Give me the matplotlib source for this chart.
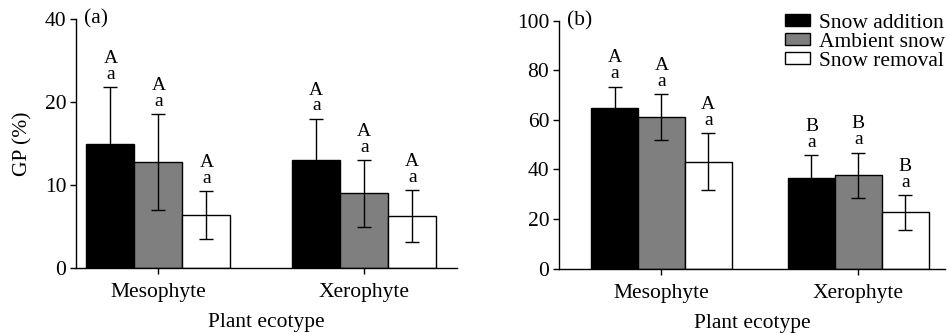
import matplotlib
matplotlib.use("Agg")
import matplotlib.pyplot as plt
import numpy as np

plt.rcParams['font.family'] = ['Liberation Serif', 'DejaVu Serif']

categories = ["Mesophyte", "Xerophyte"]
treatments = ["Snow addition", "Ambient snow", "Snow removal"]
colors = ["#000000", "#7f7f7f", "#ffffff"]

# Panel (a) GP (%)
gp_a = {
    "Snow addition": [15.0, 13.0],
    "Ambient snow": [12.8, 9.0],
    "Snow removal": [6.4, 6.3],
}
err_a = {
    "Snow addition": [6.8, 5.0],
    "Ambient snow": [5.8, 4.0],
    "Snow removal": [2.9, 3.1],
}
upper_a = [["A", "A"], ["A", "A"], ["A", "A"]]
lower_a = [["a", "a"], ["a", "a"], ["a", "a"]]
yticks_a = [0, 10, 20, 30]
yticklabels_a = ["0", "10", "20", "40"]

# Panel (b)
gp_b = {
    "Snow addition": [64.9, 36.4],
    "Ambient snow": [61.2, 37.6],
    "Snow removal": [43.1, 22.7],
}
err_b = {
    "Snow addition": [8.5, 9.4],
    "Ambient snow": [9.2, 9.2],
    "Snow removal": [11.5, 7.0],
}
upper_b = [["A", "B"], ["A", "B"], ["A", "B"]]
lower_b = [["a", "a"], ["a", "a"], ["a", "a"]]
yticks_b = [0, 20, 40, 60, 80, 100]
yticklabels_b = ["0", "20", "40", "60", "80", "100"]

fig = plt.figure(figsize=(9.47, 3.33), dpi=100)
axA = fig.add_axes([0.0803, 0.195, 0.4023, 0.747])
axB = fig.add_axes([0.5903, 0.193, 0.4076, 0.745])

FS = 15.5
LFS = 14

def draw(ax, vals, errs, up, low, width, xlim, ylim, yt, ytl, tag, legend):
    x = np.arange(len(categories))
    handles = []
    for i, t in enumerate(treatments):
        pos = x + (i - 1) * width
        b = ax.bar(pos, vals[t], width, color=colors[i], edgecolor="black",
                   linewidth=1.0, label=t, zorder=2)
        handles.append(b)
        ax.errorbar(pos, vals[t], yerr=errs[t], fmt="none", ecolor="black",
                    elinewidth=1.0, capsize=5, capthick=1.0, zorder=3)
        for j, p in enumerate(pos):
            top = vals[t][j] + errs[t][j]
            ax.annotate(low[i][j], (p, top), xytext=(0, 6.0), textcoords="offset points",
                        ha="center", va="baseline", fontsize=LFS)
            ax.annotate(up[i][j], (p, top), xytext=(0, 17.5), textcoords="offset points",
                        ha="center", va="baseline", fontsize=LFS)
    ax.set_xlim(*xlim)
    ax.set_ylim(*ylim)
    ax.set_yticks(yt)
    ax.set_yticklabels(ytl, fontsize=FS)
    ax.set_xticks(x)
    ax.set_xticklabels(categories, fontsize=FS)
    ax.tick_params(direction="out", length=4, width=1.0)
    ax.tick_params(axis="x", pad=7)
    ax.tick_params(axis="y", pad=3)
    for s in ["top", "right"]:
        ax.spines[s].set_visible(False)
    for s in ["left", "bottom"]:
        ax.spines[s].set_linewidth(1.0)
    ax.set_xlabel("Plant ecotype", fontsize=FS, labelpad=8)
    ax.text(0.02, 1.0, tag, transform=ax.transAxes, fontsize=FS, ha="left", va="center")
    if legend:
        ax.legend(handles=handles, loc="upper right", bbox_to_anchor=(1.0, 1.028),
                  frameon=False, fontsize=FS, handlelength=1.17, handleheight=0.52,
                  handletextpad=0.4, labelspacing=0.0, borderpad=0.0, borderaxespad=0.0)

draw(axA, gp_a, err_a, upper_a, lower_a, 0.233, (-0.40, 1.45), (0, 30),
     yticks_a, yticklabels_a, "(a)", False)
axA.set_ylabel("GP (%)", fontsize=FS, labelpad=9)
draw(axB, gp_b, err_b, upper_b, lower_b, 0.238, (-0.52, 1.44), (0, 100),
     yticks_b, yticklabels_b, "(b)", True)

fig.savefig("out.png", dpi=100)
